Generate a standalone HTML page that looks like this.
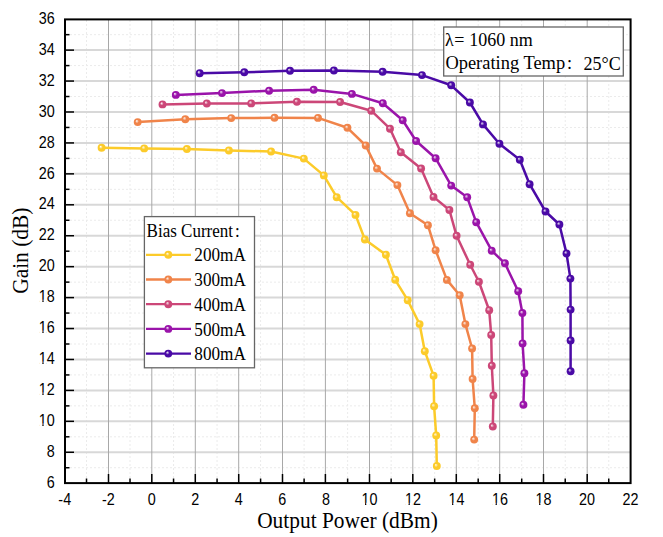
<!DOCTYPE html>
<html><head><meta charset="utf-8"><style>
html,body{margin:0;padding:0;background:#fff;width:663px;height:537px;overflow:hidden;font-family:"Liberation Sans",sans-serif;}
</style></head><body>
<svg width="663" height="537" viewBox="0 0 663 537" style="display:block">
<defs>
<radialGradient id="gc2" cx="0.5" cy="0.5" r="0.5" fx="0.36" fy="0.34"><stop offset="0" stop-color="#ffffff" stop-opacity="0.85"/><stop offset="0.45" stop-color="#fccb2a"/><stop offset="1" stop-color="#fccb2a"/></radialGradient>
<radialGradient id="gc3" cx="0.5" cy="0.5" r="0.5" fx="0.36" fy="0.34"><stop offset="0" stop-color="#ffffff" stop-opacity="0.85"/><stop offset="0.45" stop-color="#f0844a"/><stop offset="1" stop-color="#f0844a"/></radialGradient>
<radialGradient id="gc4" cx="0.5" cy="0.5" r="0.5" fx="0.36" fy="0.34"><stop offset="0" stop-color="#ffffff" stop-opacity="0.85"/><stop offset="0.45" stop-color="#cc4778"/><stop offset="1" stop-color="#cc4778"/></radialGradient>
<radialGradient id="gc5" cx="0.5" cy="0.5" r="0.5" fx="0.36" fy="0.34"><stop offset="0" stop-color="#ffffff" stop-opacity="0.85"/><stop offset="0.45" stop-color="#9a14aa"/><stop offset="1" stop-color="#9a14aa"/></radialGradient>
<radialGradient id="gc8" cx="0.5" cy="0.5" r="0.5" fx="0.36" fy="0.34"><stop offset="0" stop-color="#ffffff" stop-opacity="0.85"/><stop offset="0.45" stop-color="#4a0aa6"/><stop offset="1" stop-color="#4a0aa6"/></radialGradient>
</defs>
<rect width="663" height="537" fill="#fff"/>
<line x1="86.51" y1="20" x2="86.51" y2="482" stroke="#ebebeb" stroke-width="1" stroke-dasharray="2 2"/>
<line x1="130.03" y1="20" x2="130.03" y2="482" stroke="#ebebeb" stroke-width="1" stroke-dasharray="2 2"/>
<line x1="173.55" y1="20" x2="173.55" y2="482" stroke="#ebebeb" stroke-width="1" stroke-dasharray="2 2"/>
<line x1="217.07" y1="20" x2="217.07" y2="482" stroke="#ebebeb" stroke-width="1" stroke-dasharray="2 2"/>
<line x1="260.59" y1="20" x2="260.59" y2="482" stroke="#ebebeb" stroke-width="1" stroke-dasharray="2 2"/>
<line x1="304.11" y1="20" x2="304.11" y2="482" stroke="#ebebeb" stroke-width="1" stroke-dasharray="2 2"/>
<line x1="347.63" y1="20" x2="347.63" y2="482" stroke="#ebebeb" stroke-width="1" stroke-dasharray="2 2"/>
<line x1="391.15" y1="20" x2="391.15" y2="482" stroke="#ebebeb" stroke-width="1" stroke-dasharray="2 2"/>
<line x1="434.67" y1="20" x2="434.67" y2="482" stroke="#ebebeb" stroke-width="1" stroke-dasharray="2 2"/>
<line x1="478.19" y1="20" x2="478.19" y2="482" stroke="#ebebeb" stroke-width="1" stroke-dasharray="2 2"/>
<line x1="521.71" y1="20" x2="521.71" y2="482" stroke="#ebebeb" stroke-width="1" stroke-dasharray="2 2"/>
<line x1="565.23" y1="20" x2="565.23" y2="482" stroke="#ebebeb" stroke-width="1" stroke-dasharray="2 2"/>
<line x1="608.75" y1="20" x2="608.75" y2="482" stroke="#ebebeb" stroke-width="1" stroke-dasharray="2 2"/>
<line x1="66" y1="467.73" x2="630" y2="467.73" stroke="#ebebeb" stroke-width="1" stroke-dasharray="2 2"/>
<line x1="66" y1="436.80" x2="630" y2="436.80" stroke="#ebebeb" stroke-width="1" stroke-dasharray="2 2"/>
<line x1="66" y1="405.87" x2="630" y2="405.87" stroke="#ebebeb" stroke-width="1" stroke-dasharray="2 2"/>
<line x1="66" y1="374.93" x2="630" y2="374.93" stroke="#ebebeb" stroke-width="1" stroke-dasharray="2 2"/>
<line x1="66" y1="344.00" x2="630" y2="344.00" stroke="#ebebeb" stroke-width="1" stroke-dasharray="2 2"/>
<line x1="66" y1="313.06" x2="630" y2="313.06" stroke="#ebebeb" stroke-width="1" stroke-dasharray="2 2"/>
<line x1="66" y1="282.13" x2="630" y2="282.13" stroke="#ebebeb" stroke-width="1" stroke-dasharray="2 2"/>
<line x1="66" y1="251.19" x2="630" y2="251.19" stroke="#ebebeb" stroke-width="1" stroke-dasharray="2 2"/>
<line x1="66" y1="220.26" x2="630" y2="220.26" stroke="#ebebeb" stroke-width="1" stroke-dasharray="2 2"/>
<line x1="66" y1="189.33" x2="630" y2="189.33" stroke="#ebebeb" stroke-width="1" stroke-dasharray="2 2"/>
<line x1="66" y1="158.39" x2="630" y2="158.39" stroke="#ebebeb" stroke-width="1" stroke-dasharray="2 2"/>
<line x1="66" y1="127.46" x2="630" y2="127.46" stroke="#ebebeb" stroke-width="1" stroke-dasharray="2 2"/>
<line x1="66" y1="96.52" x2="630" y2="96.52" stroke="#ebebeb" stroke-width="1" stroke-dasharray="2 2"/>
<line x1="66" y1="65.59" x2="630" y2="65.59" stroke="#ebebeb" stroke-width="1" stroke-dasharray="2 2"/>
<line x1="66" y1="34.66" x2="630" y2="34.66" stroke="#ebebeb" stroke-width="1" stroke-dasharray="2 2"/>
<line x1="66" y1="452.27" x2="630" y2="452.27" stroke="#d8d8d8" stroke-width="2"/>
<line x1="66" y1="421.33" x2="630" y2="421.33" stroke="#d8d8d8" stroke-width="2"/>
<line x1="66" y1="390.40" x2="630" y2="390.40" stroke="#d8d8d8" stroke-width="2"/>
<line x1="66" y1="359.46" x2="630" y2="359.46" stroke="#d8d8d8" stroke-width="2"/>
<line x1="66" y1="328.53" x2="630" y2="328.53" stroke="#d8d8d8" stroke-width="2"/>
<line x1="66" y1="297.60" x2="630" y2="297.60" stroke="#d8d8d8" stroke-width="2"/>
<line x1="66" y1="266.66" x2="630" y2="266.66" stroke="#d8d8d8" stroke-width="2"/>
<line x1="66" y1="235.73" x2="630" y2="235.73" stroke="#d8d8d8" stroke-width="2"/>
<line x1="66" y1="204.79" x2="630" y2="204.79" stroke="#d8d8d8" stroke-width="2"/>
<line x1="66" y1="173.86" x2="630" y2="173.86" stroke="#d8d8d8" stroke-width="2"/>
<line x1="66" y1="142.93" x2="630" y2="142.93" stroke="#d8d8d8" stroke-width="2"/>
<line x1="66" y1="111.99" x2="630" y2="111.99" stroke="#d8d8d8" stroke-width="2"/>
<line x1="66" y1="81.06" x2="630" y2="81.06" stroke="#d8d8d8" stroke-width="2"/>
<line x1="66" y1="50.12" x2="630" y2="50.12" stroke="#d8d8d8" stroke-width="2"/>
<line x1="108.50" y1="20" x2="108.50" y2="482" stroke="#a8a8a8" stroke-width="1"/>
<line x1="151.80" y1="20" x2="151.80" y2="482" stroke="#a8a8a8" stroke-width="1"/>
<line x1="195.30" y1="20" x2="195.30" y2="482" stroke="#a8a8a8" stroke-width="1"/>
<line x1="238.70" y1="20" x2="238.70" y2="482" stroke="#a8a8a8" stroke-width="1"/>
<line x1="282.50" y1="20" x2="282.50" y2="482" stroke="#a8a8a8" stroke-width="1"/>
<line x1="325.40" y1="20" x2="325.40" y2="482" stroke="#a8a8a8" stroke-width="1"/>
<line x1="369.50" y1="20" x2="369.50" y2="482" stroke="#a8a8a8" stroke-width="1"/>
<line x1="412.80" y1="20" x2="412.80" y2="482" stroke="#a8a8a8" stroke-width="1"/>
<line x1="456.30" y1="20" x2="456.30" y2="482" stroke="#a8a8a8" stroke-width="1"/>
<line x1="499.70" y1="20" x2="499.70" y2="482" stroke="#a8a8a8" stroke-width="1"/>
<line x1="543.50" y1="20" x2="543.50" y2="482" stroke="#a8a8a8" stroke-width="1"/>
<line x1="587.20" y1="20" x2="587.20" y2="482" stroke="#a8a8a8" stroke-width="1"/>
<polyline points="101.6,147.8 144.2,148.4 186.9,149.0 228.9,150.5 271.1,151.5 303.8,158.6 323.8,175.4 336.7,197.2 355.5,214.9 364.9,239.5 385.9,254.7 395.2,279.8 407.7,300.2 419.6,324.1 424.8,351.2 433.6,375.8 434.1,406.2 436.2,435.4 436.8,466.0" fill="none" stroke="#fccb2a" stroke-width="2.5" stroke-linejoin="round"/>
<circle cx="101.6" cy="147.8" r="3.95" fill="url(#gc2)"/>
<circle cx="144.2" cy="148.4" r="3.95" fill="url(#gc2)"/>
<circle cx="186.9" cy="149.0" r="3.95" fill="url(#gc2)"/>
<circle cx="228.9" cy="150.5" r="3.95" fill="url(#gc2)"/>
<circle cx="271.1" cy="151.5" r="3.95" fill="url(#gc2)"/>
<circle cx="303.8" cy="158.6" r="3.95" fill="url(#gc2)"/>
<circle cx="323.8" cy="175.4" r="3.95" fill="url(#gc2)"/>
<circle cx="336.7" cy="197.2" r="3.95" fill="url(#gc2)"/>
<circle cx="355.5" cy="214.9" r="3.95" fill="url(#gc2)"/>
<circle cx="364.9" cy="239.5" r="3.95" fill="url(#gc2)"/>
<circle cx="385.9" cy="254.7" r="3.95" fill="url(#gc2)"/>
<circle cx="395.2" cy="279.8" r="3.95" fill="url(#gc2)"/>
<circle cx="407.7" cy="300.2" r="3.95" fill="url(#gc2)"/>
<circle cx="419.6" cy="324.1" r="3.95" fill="url(#gc2)"/>
<circle cx="424.8" cy="351.2" r="3.95" fill="url(#gc2)"/>
<circle cx="433.6" cy="375.8" r="3.95" fill="url(#gc2)"/>
<circle cx="434.1" cy="406.2" r="3.95" fill="url(#gc2)"/>
<circle cx="436.2" cy="435.4" r="3.95" fill="url(#gc2)"/>
<circle cx="436.8" cy="466.0" r="3.95" fill="url(#gc2)"/>
<polyline points="137.7,122.1 185.3,119.3 231.2,118.1 274.5,117.8 318.0,117.9 347.4,127.8 365.7,145.5 377.0,168.6 397.4,185.1 409.9,213.3 427.9,225.2 435.6,250.2 446.9,279.9 459.7,295.3 465.4,324.1 472.1,348.5 472.6,379.0 474.8,408.3 474.2,439.6" fill="none" stroke="#f0844a" stroke-width="2.5" stroke-linejoin="round"/>
<circle cx="137.7" cy="122.1" r="3.95" fill="url(#gc3)"/>
<circle cx="185.3" cy="119.3" r="3.95" fill="url(#gc3)"/>
<circle cx="231.2" cy="118.1" r="3.95" fill="url(#gc3)"/>
<circle cx="274.5" cy="117.8" r="3.95" fill="url(#gc3)"/>
<circle cx="318.0" cy="117.9" r="3.95" fill="url(#gc3)"/>
<circle cx="347.4" cy="127.8" r="3.95" fill="url(#gc3)"/>
<circle cx="365.7" cy="145.5" r="3.95" fill="url(#gc3)"/>
<circle cx="377.0" cy="168.6" r="3.95" fill="url(#gc3)"/>
<circle cx="397.4" cy="185.1" r="3.95" fill="url(#gc3)"/>
<circle cx="409.9" cy="213.3" r="3.95" fill="url(#gc3)"/>
<circle cx="427.9" cy="225.2" r="3.95" fill="url(#gc3)"/>
<circle cx="435.6" cy="250.2" r="3.95" fill="url(#gc3)"/>
<circle cx="446.9" cy="279.9" r="3.95" fill="url(#gc3)"/>
<circle cx="459.7" cy="295.3" r="3.95" fill="url(#gc3)"/>
<circle cx="465.4" cy="324.1" r="3.95" fill="url(#gc3)"/>
<circle cx="472.1" cy="348.5" r="3.95" fill="url(#gc3)"/>
<circle cx="472.6" cy="379.0" r="3.95" fill="url(#gc3)"/>
<circle cx="474.8" cy="408.3" r="3.95" fill="url(#gc3)"/>
<circle cx="474.2" cy="439.6" r="3.95" fill="url(#gc3)"/>
<polyline points="162.5,104.4 206.8,103.5 251.2,103.4 296.9,101.8 340.1,102.0 371.2,110.7 390.0,128.7 400.8,152.3 421.1,168.5 433.5,196.9 449.4,210.0 456.6,235.8 470.2,264.8 478.9,281.8 489.2,310.2 491.2,334.9 491.8,365.7 493.4,395.5 492.8,426.5" fill="none" stroke="#cc4778" stroke-width="2.5" stroke-linejoin="round"/>
<circle cx="162.5" cy="104.4" r="3.95" fill="url(#gc4)"/>
<circle cx="206.8" cy="103.5" r="3.95" fill="url(#gc4)"/>
<circle cx="251.2" cy="103.4" r="3.95" fill="url(#gc4)"/>
<circle cx="296.9" cy="101.8" r="3.95" fill="url(#gc4)"/>
<circle cx="340.1" cy="102.0" r="3.95" fill="url(#gc4)"/>
<circle cx="371.2" cy="110.7" r="3.95" fill="url(#gc4)"/>
<circle cx="390.0" cy="128.7" r="3.95" fill="url(#gc4)"/>
<circle cx="400.8" cy="152.3" r="3.95" fill="url(#gc4)"/>
<circle cx="421.1" cy="168.5" r="3.95" fill="url(#gc4)"/>
<circle cx="433.5" cy="196.9" r="3.95" fill="url(#gc4)"/>
<circle cx="449.4" cy="210.0" r="3.95" fill="url(#gc4)"/>
<circle cx="456.6" cy="235.8" r="3.95" fill="url(#gc4)"/>
<circle cx="470.2" cy="264.8" r="3.95" fill="url(#gc4)"/>
<circle cx="478.9" cy="281.8" r="3.95" fill="url(#gc4)"/>
<circle cx="489.2" cy="310.2" r="3.95" fill="url(#gc4)"/>
<circle cx="491.2" cy="334.9" r="3.95" fill="url(#gc4)"/>
<circle cx="491.8" cy="365.7" r="3.95" fill="url(#gc4)"/>
<circle cx="493.4" cy="395.5" r="3.95" fill="url(#gc4)"/>
<circle cx="492.8" cy="426.5" r="3.95" fill="url(#gc4)"/>
<polyline points="175.8,94.9 222.0,93.1 269.1,90.7 313.7,89.8 351.9,93.9 382.8,103.2 402.7,120.2 416.1,141.0 435.6,158.2 451.2,185.6 467.2,197.3 476.2,222.2 491.7,250.7 504.9,263.3 518.2,291.2 522.4,313.0 522.6,343.5 524.4,373.2 523.4,404.8" fill="none" stroke="#9a14aa" stroke-width="2.5" stroke-linejoin="round"/>
<circle cx="175.8" cy="94.9" r="3.95" fill="url(#gc5)"/>
<circle cx="222.0" cy="93.1" r="3.95" fill="url(#gc5)"/>
<circle cx="269.1" cy="90.7" r="3.95" fill="url(#gc5)"/>
<circle cx="313.7" cy="89.8" r="3.95" fill="url(#gc5)"/>
<circle cx="351.9" cy="93.9" r="3.95" fill="url(#gc5)"/>
<circle cx="382.8" cy="103.2" r="3.95" fill="url(#gc5)"/>
<circle cx="402.7" cy="120.2" r="3.95" fill="url(#gc5)"/>
<circle cx="416.1" cy="141.0" r="3.95" fill="url(#gc5)"/>
<circle cx="435.6" cy="158.2" r="3.95" fill="url(#gc5)"/>
<circle cx="451.2" cy="185.6" r="3.95" fill="url(#gc5)"/>
<circle cx="467.2" cy="197.3" r="3.95" fill="url(#gc5)"/>
<circle cx="476.2" cy="222.2" r="3.95" fill="url(#gc5)"/>
<circle cx="491.7" cy="250.7" r="3.95" fill="url(#gc5)"/>
<circle cx="504.9" cy="263.3" r="3.95" fill="url(#gc5)"/>
<circle cx="518.2" cy="291.2" r="3.95" fill="url(#gc5)"/>
<circle cx="522.4" cy="313.0" r="3.95" fill="url(#gc5)"/>
<circle cx="522.6" cy="343.5" r="3.95" fill="url(#gc5)"/>
<circle cx="524.4" cy="373.2" r="3.95" fill="url(#gc5)"/>
<circle cx="523.4" cy="404.8" r="3.95" fill="url(#gc5)"/>
<polyline points="199.7,73.2 244.3,72.3 290.0,70.8 333.9,70.5 382.6,71.8 422.0,75.1 451.2,85.3 469.9,102.5 483.0,124.4 499.4,143.7 519.8,159.8 529.6,184.2 545.5,211.5 559.4,224.5 566.5,253.4 570.4,278.6 570.6,309.6 570.6,340.5 570.6,371.2" fill="none" stroke="#4a0aa6" stroke-width="2.5" stroke-linejoin="round"/>
<circle cx="199.7" cy="73.2" r="3.95" fill="url(#gc8)"/>
<circle cx="244.3" cy="72.3" r="3.95" fill="url(#gc8)"/>
<circle cx="290.0" cy="70.8" r="3.95" fill="url(#gc8)"/>
<circle cx="333.9" cy="70.5" r="3.95" fill="url(#gc8)"/>
<circle cx="382.6" cy="71.8" r="3.95" fill="url(#gc8)"/>
<circle cx="422.0" cy="75.1" r="3.95" fill="url(#gc8)"/>
<circle cx="451.2" cy="85.3" r="3.95" fill="url(#gc8)"/>
<circle cx="469.9" cy="102.5" r="3.95" fill="url(#gc8)"/>
<circle cx="483.0" cy="124.4" r="3.95" fill="url(#gc8)"/>
<circle cx="499.4" cy="143.7" r="3.95" fill="url(#gc8)"/>
<circle cx="519.8" cy="159.8" r="3.95" fill="url(#gc8)"/>
<circle cx="529.6" cy="184.2" r="3.95" fill="url(#gc8)"/>
<circle cx="545.5" cy="211.5" r="3.95" fill="url(#gc8)"/>
<circle cx="559.4" cy="224.5" r="3.95" fill="url(#gc8)"/>
<circle cx="566.5" cy="253.4" r="3.95" fill="url(#gc8)"/>
<circle cx="570.4" cy="278.6" r="3.95" fill="url(#gc8)"/>
<circle cx="570.6" cy="309.6" r="3.95" fill="url(#gc8)"/>
<circle cx="570.6" cy="340.5" r="3.95" fill="url(#gc8)"/>
<circle cx="570.6" cy="371.2" r="3.95" fill="url(#gc8)"/>
<line x1="86.51" y1="483" x2="86.51" y2="478.5" stroke="#000" stroke-width="1.5"/>
<line x1="108.50" y1="483" x2="108.50" y2="474" stroke="#000" stroke-width="1.5"/>
<line x1="130.03" y1="483" x2="130.03" y2="478.5" stroke="#000" stroke-width="1.5"/>
<line x1="151.80" y1="483" x2="151.80" y2="474" stroke="#000" stroke-width="1.5"/>
<line x1="173.55" y1="483" x2="173.55" y2="478.5" stroke="#000" stroke-width="1.5"/>
<line x1="195.30" y1="483" x2="195.30" y2="474" stroke="#000" stroke-width="1.5"/>
<line x1="217.07" y1="483" x2="217.07" y2="478.5" stroke="#000" stroke-width="1.5"/>
<line x1="238.70" y1="483" x2="238.70" y2="474" stroke="#000" stroke-width="1.5"/>
<line x1="260.59" y1="483" x2="260.59" y2="478.5" stroke="#000" stroke-width="1.5"/>
<line x1="282.50" y1="483" x2="282.50" y2="474" stroke="#000" stroke-width="1.5"/>
<line x1="304.11" y1="483" x2="304.11" y2="478.5" stroke="#000" stroke-width="1.5"/>
<line x1="325.40" y1="483" x2="325.40" y2="474" stroke="#000" stroke-width="1.5"/>
<line x1="347.63" y1="483" x2="347.63" y2="478.5" stroke="#000" stroke-width="1.5"/>
<line x1="369.50" y1="483" x2="369.50" y2="474" stroke="#000" stroke-width="1.5"/>
<line x1="391.15" y1="483" x2="391.15" y2="478.5" stroke="#000" stroke-width="1.5"/>
<line x1="412.80" y1="483" x2="412.80" y2="474" stroke="#000" stroke-width="1.5"/>
<line x1="434.67" y1="483" x2="434.67" y2="478.5" stroke="#000" stroke-width="1.5"/>
<line x1="456.30" y1="483" x2="456.30" y2="474" stroke="#000" stroke-width="1.5"/>
<line x1="478.19" y1="483" x2="478.19" y2="478.5" stroke="#000" stroke-width="1.5"/>
<line x1="499.70" y1="483" x2="499.70" y2="474" stroke="#000" stroke-width="1.5"/>
<line x1="521.71" y1="483" x2="521.71" y2="478.5" stroke="#000" stroke-width="1.5"/>
<line x1="543.50" y1="483" x2="543.50" y2="474" stroke="#000" stroke-width="1.5"/>
<line x1="565.23" y1="483" x2="565.23" y2="478.5" stroke="#000" stroke-width="1.5"/>
<line x1="587.20" y1="483" x2="587.20" y2="474" stroke="#000" stroke-width="1.5"/>
<line x1="608.75" y1="483" x2="608.75" y2="478.5" stroke="#000" stroke-width="1.5"/>
<line x1="65" y1="467.73" x2="69.5" y2="467.73" stroke="#000" stroke-width="1.5"/>
<line x1="65" y1="452.27" x2="74" y2="452.27" stroke="#000" stroke-width="1.5"/>
<line x1="65" y1="436.80" x2="69.5" y2="436.80" stroke="#000" stroke-width="1.5"/>
<line x1="65" y1="421.33" x2="74" y2="421.33" stroke="#000" stroke-width="1.5"/>
<line x1="65" y1="405.87" x2="69.5" y2="405.87" stroke="#000" stroke-width="1.5"/>
<line x1="65" y1="390.40" x2="74" y2="390.40" stroke="#000" stroke-width="1.5"/>
<line x1="65" y1="374.93" x2="69.5" y2="374.93" stroke="#000" stroke-width="1.5"/>
<line x1="65" y1="359.46" x2="74" y2="359.46" stroke="#000" stroke-width="1.5"/>
<line x1="65" y1="344.00" x2="69.5" y2="344.00" stroke="#000" stroke-width="1.5"/>
<line x1="65" y1="328.53" x2="74" y2="328.53" stroke="#000" stroke-width="1.5"/>
<line x1="65" y1="313.06" x2="69.5" y2="313.06" stroke="#000" stroke-width="1.5"/>
<line x1="65" y1="297.60" x2="74" y2="297.60" stroke="#000" stroke-width="1.5"/>
<line x1="65" y1="282.13" x2="69.5" y2="282.13" stroke="#000" stroke-width="1.5"/>
<line x1="65" y1="266.66" x2="74" y2="266.66" stroke="#000" stroke-width="1.5"/>
<line x1="65" y1="251.19" x2="69.5" y2="251.19" stroke="#000" stroke-width="1.5"/>
<line x1="65" y1="235.73" x2="74" y2="235.73" stroke="#000" stroke-width="1.5"/>
<line x1="65" y1="220.26" x2="69.5" y2="220.26" stroke="#000" stroke-width="1.5"/>
<line x1="65" y1="204.79" x2="74" y2="204.79" stroke="#000" stroke-width="1.5"/>
<line x1="65" y1="189.33" x2="69.5" y2="189.33" stroke="#000" stroke-width="1.5"/>
<line x1="65" y1="173.86" x2="74" y2="173.86" stroke="#000" stroke-width="1.5"/>
<line x1="65" y1="158.39" x2="69.5" y2="158.39" stroke="#000" stroke-width="1.5"/>
<line x1="65" y1="142.93" x2="74" y2="142.93" stroke="#000" stroke-width="1.5"/>
<line x1="65" y1="127.46" x2="69.5" y2="127.46" stroke="#000" stroke-width="1.5"/>
<line x1="65" y1="111.99" x2="74" y2="111.99" stroke="#000" stroke-width="1.5"/>
<line x1="65" y1="96.52" x2="69.5" y2="96.52" stroke="#000" stroke-width="1.5"/>
<line x1="65" y1="81.06" x2="74" y2="81.06" stroke="#000" stroke-width="1.5"/>
<line x1="65" y1="65.59" x2="69.5" y2="65.59" stroke="#000" stroke-width="1.5"/>
<line x1="65" y1="50.12" x2="74" y2="50.12" stroke="#000" stroke-width="1.5"/>
<line x1="65" y1="34.66" x2="69.5" y2="34.66" stroke="#000" stroke-width="1.5"/>
<rect x="65" y="19.4" width="565.6" height="463.7" fill="none" stroke="#000" stroke-width="2"/>
<text transform="translate(64.75,505.4) scale(0.87,1)" text-anchor="middle" font-family="Liberation Sans, sans-serif" font-size="16.5" fill="#000">-4</text>
<text transform="translate(108.27,505.4) scale(0.87,1)" text-anchor="middle" font-family="Liberation Sans, sans-serif" font-size="16.5" fill="#000">-2</text>
<text transform="translate(151.79,505.4) scale(0.87,1)" text-anchor="middle" font-family="Liberation Sans, sans-serif" font-size="16.5" fill="#000">0</text>
<text transform="translate(195.31,505.4) scale(0.87,1)" text-anchor="middle" font-family="Liberation Sans, sans-serif" font-size="16.5" fill="#000">2</text>
<text transform="translate(238.83,505.4) scale(0.87,1)" text-anchor="middle" font-family="Liberation Sans, sans-serif" font-size="16.5" fill="#000">4</text>
<text transform="translate(282.35,505.4) scale(0.87,1)" text-anchor="middle" font-family="Liberation Sans, sans-serif" font-size="16.5" fill="#000">6</text>
<text transform="translate(325.87,505.4) scale(0.87,1)" text-anchor="middle" font-family="Liberation Sans, sans-serif" font-size="16.5" fill="#000">8</text>
<text transform="translate(369.39,505.4) scale(0.87,1)" text-anchor="middle" font-family="Liberation Sans, sans-serif" font-size="16.5" fill="#000">10</text>
<text transform="translate(412.91,505.4) scale(0.87,1)" text-anchor="middle" font-family="Liberation Sans, sans-serif" font-size="16.5" fill="#000">12</text>
<text transform="translate(456.43,505.4) scale(0.87,1)" text-anchor="middle" font-family="Liberation Sans, sans-serif" font-size="16.5" fill="#000">14</text>
<text transform="translate(499.95,505.4) scale(0.87,1)" text-anchor="middle" font-family="Liberation Sans, sans-serif" font-size="16.5" fill="#000">16</text>
<text transform="translate(543.47,505.4) scale(0.87,1)" text-anchor="middle" font-family="Liberation Sans, sans-serif" font-size="16.5" fill="#000">18</text>
<text transform="translate(586.99,505.4) scale(0.87,1)" text-anchor="middle" font-family="Liberation Sans, sans-serif" font-size="16.5" fill="#000">20</text>
<text transform="translate(630.51,505.4) scale(0.87,1)" text-anchor="middle" font-family="Liberation Sans, sans-serif" font-size="16.5" fill="#000">22</text>
<text transform="translate(54.7,487.90) scale(0.87,1)" text-anchor="end" font-family="Liberation Sans, sans-serif" font-size="16.5" fill="#000">6</text>
<text transform="translate(54.7,456.97) scale(0.87,1)" text-anchor="end" font-family="Liberation Sans, sans-serif" font-size="16.5" fill="#000">8</text>
<text transform="translate(54.7,426.03) scale(0.87,1)" text-anchor="end" font-family="Liberation Sans, sans-serif" font-size="16.5" fill="#000">10</text>
<text transform="translate(54.7,395.10) scale(0.87,1)" text-anchor="end" font-family="Liberation Sans, sans-serif" font-size="16.5" fill="#000">12</text>
<text transform="translate(54.7,364.16) scale(0.87,1)" text-anchor="end" font-family="Liberation Sans, sans-serif" font-size="16.5" fill="#000">14</text>
<text transform="translate(54.7,333.23) scale(0.87,1)" text-anchor="end" font-family="Liberation Sans, sans-serif" font-size="16.5" fill="#000">16</text>
<text transform="translate(54.7,302.30) scale(0.87,1)" text-anchor="end" font-family="Liberation Sans, sans-serif" font-size="16.5" fill="#000">18</text>
<text transform="translate(54.7,271.36) scale(0.87,1)" text-anchor="end" font-family="Liberation Sans, sans-serif" font-size="16.5" fill="#000">20</text>
<text transform="translate(54.7,240.43) scale(0.87,1)" text-anchor="end" font-family="Liberation Sans, sans-serif" font-size="16.5" fill="#000">22</text>
<text transform="translate(54.7,209.49) scale(0.87,1)" text-anchor="end" font-family="Liberation Sans, sans-serif" font-size="16.5" fill="#000">24</text>
<text transform="translate(54.7,178.56) scale(0.87,1)" text-anchor="end" font-family="Liberation Sans, sans-serif" font-size="16.5" fill="#000">26</text>
<text transform="translate(54.7,147.63) scale(0.87,1)" text-anchor="end" font-family="Liberation Sans, sans-serif" font-size="16.5" fill="#000">28</text>
<text transform="translate(54.7,116.69) scale(0.87,1)" text-anchor="end" font-family="Liberation Sans, sans-serif" font-size="16.5" fill="#000">30</text>
<text transform="translate(54.7,85.76) scale(0.87,1)" text-anchor="end" font-family="Liberation Sans, sans-serif" font-size="16.5" fill="#000">32</text>
<text transform="translate(54.7,54.82) scale(0.87,1)" text-anchor="end" font-family="Liberation Sans, sans-serif" font-size="16.5" fill="#000">34</text>
<text transform="translate(54.7,23.89) scale(0.87,1)" text-anchor="end" font-family="Liberation Sans, sans-serif" font-size="16.5" fill="#000">36</text>
<rect x="361.90" y="502.80" width="3.12" height="3.6" fill="#fff"/>
<rect x="366.29" y="502.80" width="3.00" height="3.6" fill="#fff"/>
<rect x="405.42" y="502.80" width="3.12" height="3.6" fill="#fff"/>
<rect x="409.81" y="502.80" width="3.00" height="3.6" fill="#fff"/>
<rect x="448.94" y="502.80" width="3.12" height="3.6" fill="#fff"/>
<rect x="453.33" y="502.80" width="3.00" height="3.6" fill="#fff"/>
<rect x="492.46" y="502.80" width="3.12" height="3.6" fill="#fff"/>
<rect x="496.85" y="502.80" width="3.00" height="3.6" fill="#fff"/>
<rect x="535.98" y="502.80" width="3.12" height="3.6" fill="#fff"/>
<rect x="540.37" y="502.80" width="3.00" height="3.6" fill="#fff"/>
<rect x="39.23" y="423.43" width="3.12" height="3.6" fill="#fff"/>
<rect x="43.62" y="423.43" width="3.00" height="3.6" fill="#fff"/>
<rect x="39.23" y="392.50" width="3.12" height="3.6" fill="#fff"/>
<rect x="43.62" y="392.50" width="3.00" height="3.6" fill="#fff"/>
<rect x="39.23" y="361.56" width="3.12" height="3.6" fill="#fff"/>
<rect x="43.62" y="361.56" width="3.00" height="3.6" fill="#fff"/>
<rect x="39.23" y="330.63" width="3.12" height="3.6" fill="#fff"/>
<rect x="43.62" y="330.63" width="3.00" height="3.6" fill="#fff"/>
<rect x="39.23" y="299.70" width="3.12" height="3.6" fill="#fff"/>
<rect x="43.62" y="299.70" width="3.00" height="3.6" fill="#fff"/>
<text transform="translate(347.5,528) scale(1,1.12)" text-anchor="middle" font-family="Liberation Serif, serif" font-size="21.4" fill="#000">Output Power (dBm)</text>
<text transform="translate(28.4,250.7) rotate(-90) scale(1,1.05)" x="0" y="0" text-anchor="middle" font-family="Liberation Serif, serif" font-size="21.4" fill="#000">Gain (dB)</text>
<rect x="144.4" y="216.6" width="110.1" height="151.2" fill="#fff" stroke="#666" stroke-width="1.3"/>
<text transform="translate(146.6,236.8) scale(1,1.1)" font-family="Liberation Serif, serif" font-size="17" fill="#000">Bias Current<tspan dx="2">:</tspan></text>
<line x1="146" y1="254.8" x2="191" y2="254.8" stroke="#fccb2a" stroke-width="2.3"/>
<circle cx="168.3" cy="254.8" r="3.95" fill="url(#gc2)"/>
<text transform="translate(194.3,261.4) scale(1,1.1)" font-family="Liberation Serif, serif" font-size="17.2" fill="#000">200mA</text>
<line x1="146" y1="279.5" x2="191" y2="279.5" stroke="#f0844a" stroke-width="2.3"/>
<circle cx="168.3" cy="279.5" r="3.95" fill="url(#gc3)"/>
<text transform="translate(194.3,286.1) scale(1,1.1)" font-family="Liberation Serif, serif" font-size="17.2" fill="#000">300mA</text>
<line x1="146" y1="304.2" x2="191" y2="304.2" stroke="#cc4778" stroke-width="2.3"/>
<circle cx="168.3" cy="304.2" r="3.95" fill="url(#gc4)"/>
<text transform="translate(194.3,310.8) scale(1,1.1)" font-family="Liberation Serif, serif" font-size="17.2" fill="#000">400mA</text>
<line x1="146" y1="328.9" x2="191" y2="328.9" stroke="#9a14aa" stroke-width="2.3"/>
<circle cx="168.3" cy="328.9" r="3.95" fill="url(#gc5)"/>
<text transform="translate(194.3,335.5) scale(1,1.1)" font-family="Liberation Serif, serif" font-size="17.2" fill="#000">500mA</text>
<line x1="146" y1="353.6" x2="191" y2="353.6" stroke="#4a0aa6" stroke-width="2.3"/>
<circle cx="168.3" cy="353.6" r="3.95" fill="url(#gc8)"/>
<text transform="translate(194.3,360.2) scale(1,1.1)" font-family="Liberation Serif, serif" font-size="17.2" fill="#000">800mA</text>
<rect x="443.7" y="27" width="179.6" height="49" fill="#fff" stroke="#666" stroke-width="1.3"/>
<text transform="translate(445,46.3) scale(1,1.03)" font-family="Liberation Serif, serif" font-size="18" fill="#000">λ</text>
<text transform="translate(454.2,46.3) scale(1,1.03)" font-family="Liberation Serif, serif" font-size="18" fill="#000">=</text>
<text transform="translate(469.2,46.3) scale(1,1.03)" font-family="Liberation Serif, serif" font-size="18" fill="#000">1060 nm</text>
<text transform="translate(445.4,69.2) scale(1,1.02)" font-family="Liberation Serif, serif" font-size="18.45" fill="#000">Operating Temp</text>
<text transform="translate(567,69.2) scale(1,1.03)" font-family="Liberation Serif, serif" font-size="18.2" fill="#000">:</text>
<text transform="translate(583.5,69.6) scale(1,1.03)" font-family="Liberation Serif, serif" font-size="18" fill="#000">25°C</text>
</svg>
</body></html>
